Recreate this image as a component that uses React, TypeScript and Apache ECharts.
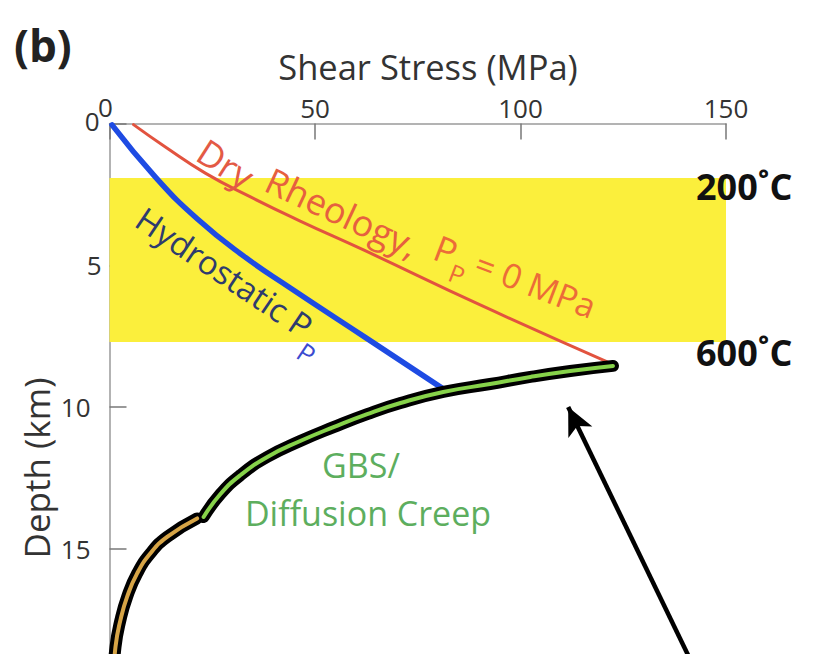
import React, { useEffect, useRef } from "react";
import * as echarts from "echarts";

// Axis ranges / ticks
const stressMin = 0;
const stressMax = 150;
const stressInterval = 50;
const depthMin = 0;
const depthMax = 20;
const depthInterval = 5;

// Yellow temperature band (depth, km)
const bandTop = 1.92;
const bandBottom = 7.71;
const tempLabels = ["200˚C", "600˚C"];

// Dry rheology, Pp = 0 MPa
const dryStress = [5.84, 13.6, 23.3, 34.3, 46.4, 61.8, 90.2, 121.8];
const dryDepth = [0.04, 0.83, 1.75, 2.59, 3.44, 4.46, 6.4, 8.45];

// Hydrostatic Pp
const hydroStress = [0.61, 11.18, 21.4, 32.58, 44.0, 62.5, 81.2];
const hydroDepth = [0.05, 1.89, 3.37, 4.67, 5.8, 7.57, 9.36];

// GBS / diffusion creep (green segment)
const gbsStress = [122.5, 112.1, 102.4, 92.6, 81.2, 70.8, 62.7, 54.5, 46.4, 38.4, 31.9, 27.0, 22.9];
const gbsDepth = [8.55, 8.73, 8.94, 9.19, 9.47, 9.86, 10.25, 10.71, 11.2, 11.76, 12.4, 13.07, 13.88];

// Deeper segment (tan)
const deepStress = [21.32, 14.03, 9.97, 6.73, 4.3, 2.67, 1.46, 0.73];
const deepDepth = [13.93, 14.58, 15.16, 15.87, 16.69, 17.51, 18.46, 20];

// Arrow (from, to) in data coordinates
const arrowFrom = [143.7, 19.63];
const arrowTo = [111.6, 10.0];

const zip = (a: number[], b: number[]) => a.map((v, i) => [v, b[i]]);
const FONT = "'Open Sans', 'Noto Sans', sans-serif";

export default function App() {
  const ref = useRef<HTMLDivElement>(null);
  useEffect(() => {
    if (!ref.current) return;
    const chart = echarts.init(ref.current, null, { renderer: "svg" });
    const ctx = document.createElement("canvas").getContext("2d")!;
    const w = (t: string, size: number) => {
      ctx.font = `${size}px ${FONT}`;
      return ctx.measureText(t).width;
    };
    const deg = Math.PI / 180;

    const hydroF = 33;
    const hpW = w("P", hydroF);
    const redF = 36;
    const rpW = w("P", redF);

    const line = (data: number[][], color: string, width: number, z: number) => ({
      type: "line",
      data,
      smooth: 0.5,
      symbol: "none",
      z,
      lineStyle: { color, width, cap: "round", join: "round" },
      silent: true,
    });

    const txt = (x: number, y: number, text: string, font: string, fill: string, align = "left", extra: any = {}) => ({
      type: "text",
      x,
      y,
      z: 100,
      ...extra,
      style: { text, font, fill, align, verticalAlign: "middle" },
    });

    const labelBase = { fontSize: 26, color: "#333", fontFamily: FONT };

    const option: any = {
      animation: false,
      backgroundColor: "#ffffff",
      grid: { left: 109.5, right: 87, top: 123.5, bottom: 9.5 },
      xAxis: {
        type: "value",
        position: "top",
        min: stressMin,
        max: stressMax,
        interval: stressInterval,
        axisLine: { show: true, lineStyle: { color: "#9a9a9a", width: 1.5 } },
        axisTick: { show: true, inside: true, length: 16, lineStyle: { color: "#777", width: 1.5 } },
        axisLabel: {
          ...labelBase,
          margin: 3,
          lineHeight: 26,
          formatter: (v: number) => (v === 0 ? `{z|${v}}` : `${v}`),
          rich: { z: { ...labelBase, lineHeight: 26, padding: [0, 8, 2, 0] } },
        },
        splitLine: { show: false },
      },
      yAxis: {
        type: "value",
        inverse: true,
        min: depthMin,
        max: depthMax,
        interval: depthInterval,
        axisLine: { show: true, lineStyle: { color: "#9a9a9a", width: 1.5 } },
        axisTick: { show: true, inside: true, length: 17, lineStyle: { color: "#777", width: 1.5 } },
        axisLabel: {
          ...labelBase,
          margin: 8,
          showMaxLabel: false,
          formatter: (v: number) => (v === 0 ? `{z|${v}}` : v >= 10 ? `{w|${v}}` : `{n|${v}}`),
          rich: {
            z: { ...labelBase, padding: [0, 2, 6, 0] },
            w: { ...labelBase, padding: [0, 11, 0, 0] },
            n: { ...labelBase },
          },
        },
        splitLine: { show: false },
      },
      series: [
        {
          type: "line",
          data: [[0, bandTop]],
          symbol: "none",
          z: 1,
          lineStyle: { width: 0 },
          silent: true,
          markArea: {
            silent: true,
            itemStyle: { color: "#FBEF3C" },
            data: [[{ coord: [stressMin, bandTop] }, { coord: [stressMax, bandBottom] }]],
          },
          markLine: {
            silent: true,
            symbol: ["none", "arrow"],
            symbolSize: [20, 28],
            label: { show: false },
            lineStyle: { color: "#000", width: 4.5, type: "solid" },
            data: [[{ coord: arrowFrom }, { coord: arrowTo }]],
          },
        },
        line(zip(dryStress, dryDepth), "#E2533F", 3, 3),
        line(zip(hydroStress, hydroDepth), "#1E4BE3", 5.5, 3),
        line(zip(gbsStress, gbsDepth), "#000000", 12, 4),
        line(zip(gbsStress, gbsDepth), "#86D24A", 4, 5),
        line(zip(deepStress, deepDepth), "#000000", 12, 4),
        line(zip(deepStress, deepDepth), "#D6A446", 4, 5),
      ],
      graphic: {
        elements: [
          txt(14, 45, "(b)", `bold 44px ${FONT}`, "#222"),
          txt(428, 66, "Shear Stress (MPa)", `34.5px ${FONT}`, "#333", "center"),
          txt(36, 468, "Depth (km)", `35px ${FONT}`, "#333", "center", { rotation: Math.PI / 2 }),
          txt(696, 186, tempLabels[0], `bold 36px ${FONT}`, "#111"),
          txt(696, 352, tempLabels[1], `bold 36px ${FONT}`, "#111"),
          txt(361, 465, "GBS/", `34px ${FONT}`, "#5DAE5E", "center"),
          txt(368, 513, "Diffusion Creep", `34px ${FONT}`, "#5DAE5E", "center"),
          {
            type: "group", x: 301, y: 324, rotation: -34 * deg, z: 100,
            children: [
              txt(-hpW / 2 - w(" ", hydroF), 0, "Hydrostatic", `${hydroF}px ${FONT}`, "#2E3B6E", "right"),
              txt(0, 0, "P", `${hydroF}px ${FONT}`, "#2E3B6E", "center"),
              txt(21, 21, "P", `26px ${FONT}`, "#3B4BD0", "center"),
            ],
          },
          {
            type: "group", x: 201, y: 148, rotation: -33 * deg, z: 100,
            children: [txt(0, 0, "Dry", `${redF}px ${FONT}`, "#E35A45")],
          },
          {
            type: "group", x: 268, y: 178, rotation: -25 * deg, z: 100,
            children: [txt(0, 0, "Rheology,", `${redF}px ${FONT}`, "#E6603F")],
          },
          {
            type: "group", x: 446, y: 250, rotation: -21 * deg, z: 100,
            children: [
              txt(0, 0, "P", `${redF}px ${FONT}`, "#EC6C38", "center"),
              txt(rpW / 2 + 8, 18, "P", `25px ${FONT}`, "#EC6C38", "center"),
              txt(rpW / 2 + 22, 0, "= 0 MPa", `34px ${FONT}`, "#EC6C38"),
            ],
          },
        ],
      },
    };
    chart.setOption(option);
    return () => chart.dispose();
  }, []);
  return (
    <div style={{ position: "fixed", left: 0, top: 0, width: 813, height: 654, overflow: "hidden", background: "#fff" }}>
      <div ref={ref} style={{ width: 813, height: 700 }} />
    </div>
  );
}
